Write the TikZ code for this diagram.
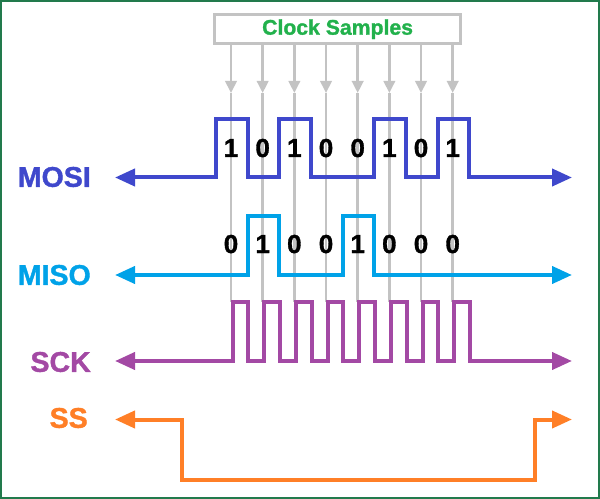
\documentclass[tikz,border=0pt]{standalone}
\usepackage{fontspec}
\setmainfont[BoldFeatures={FakeBold=1.3}]{Liberation Sans}
\usetikzlibrary{arrows.meta,calc}
\definecolor{mosicol}{RGB}{63,72,204}
\definecolor{misocol}{RGB}{0,162,232}
\definecolor{sckcol}{RGB}{163,73,164}
\definecolor{sscol}{RGB}{255,127,39}
\definecolor{clkgreen}{RGB}{34,177,76}
\definecolor{samplegray}{RGB}{195,195,195}
\definecolor{framecol}{RGB}{34,122,76}
\begin{document}
\begin{tikzpicture}[x=0.75pt,y=-0.75pt,
  sig/.style={line width=3pt, line join=miter, {Triangle[length=15pt,width=12.75pt]}-{Triangle[length=15pt,width=12.75pt]}},
  samplearrow/.style={samplegray, line width=2pt, -{Triangle[length=9pt,width=8.5pt]}},
  sampleline/.style={samplegray, line width=2pt},
  boxstyle/.style={draw=samplegray, line width=2.6pt, minimum width=184.35pt, minimum height=21.75pt, inner sep=0pt,
     text=clkgreen, font=\bfseries\fontsize{15.9}{18}\selectfont},
  siglabel/.style={anchor=east, inner sep=0pt, font=\bfseries\fontsize{21.4}{24}\selectfont},
  bit/.style={anchor=base, inner sep=0pt, font=\bfseries\fontsize{19.5}{21}\selectfont}
]
\useasboundingbox (0,0) rectangle (600,499);
\draw[framecol, line width=1.5pt] (1,1) rectangle (599,498);

% Clock samples box
\node[boxstyle] (box) at (337.6,29.2) {Clock Samples};

% sample lines
\foreach \i in {0,...,7} {
  \pgfmathsetmacro\xx{231+31.67*\i}
  \coordinate (s\i) at (\xx,93);
  \coordinate (e\i) at (\xx,302);
  \draw[samplearrow] (box.south -| s\i) -- (s\i);
  \draw[sampleline] (s\i) -- (e\i);
}

% labels
\node[siglabel, text=mosicol] (lmosi) at (91,177) {MOSI};
\node[siglabel, text=misocol] (lmiso) at (91,275) {MISO};
\node[siglabel, text=sckcol] (lsck) at (91,362) {SCK};
\node[siglabel, text=sscol] (lss) at (88,418) {SS};

% MOSI
\draw[sig, mosicol] (115,177.5) -| (216,119) -| (247.7,177.5) -| (279.3,119) -| (311,177.5)
   -| (374.3,119) -| (406,177.5) -| (437.7,119) -| (469.3,177.5) -- (572,177.5);
% MISO
\draw[sig, misocol] (115,275) -| (247.7,216) -| (279.3,275) -| (342.7,216) -| (374.3,275) -- (572,275);
% SCK
\draw[sig, sckcol] (115,361)
   -| (232.5,302) -| (248.3,361)
   -| (264.2,302) -| (280.0,361)
   -| (295.8,302) -| (311.6,361)
   -| (327.5,302) -| (343.3,361)
   -| (359.2,302) -| (375.0,361)
   -| (390.9,302) -| (406.7,361)
   -| (422.5,302) -| (438.3,361)
   -| (454.2,302) -| (470.0,361) -- (572,361);
% SS
\draw[sig, sscol] (115,419.5) -| (181.5,479.5) -| (534.7,419.5) -- (572,419.5);

% bits
\foreach \b [count=\i from 0] in {1,0,1,0,0,1,0,1} {
  \node[bit] (mo\i) at ($(s\i)+(0,64)$) {\b};
}
\foreach \b [count=\i from 0] in {0,1,0,0,1,0,0,0} {
  \node[bit] (mi\i) at ($(s\i)+(0,160)$) {\b};
}
\end{tikzpicture}
\end{document}
